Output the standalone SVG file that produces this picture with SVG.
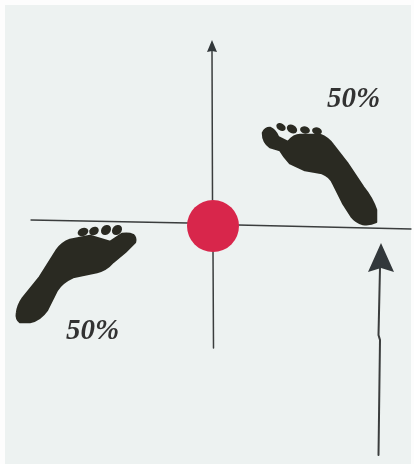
<svg xmlns="http://www.w3.org/2000/svg" width="414" height="464" viewBox="0 0 414 464">
<style>
.foot{fill:#2a2a22;stroke:#2a2a22;stroke-width:2.500;stroke-linejoin:round}
.toe{fill:#2a2a22}
.line{fill:none;stroke:#3a3d3d;stroke-linecap:round}
.head{fill:#33383a}
.pct{font-family:"Liberation Serif",serif;font-style:italic;font-weight:bold;font-size:29px;fill:#333333}
</style>
<defs><filter id="soft" x="-5%" y="-5%" width="110%" height="110%"><feGaussianBlur stdDeviation="0.7"/></filter></defs>
<rect width="414" height="464" fill="#fdfdfd"/>
<rect x="5" y="5" width="406" height="459" fill="#edf2f1"/>
<g id="connectors" filter="url(#soft)">
<path class="line" stroke-width="1.300" d="M31 220L188 223M238 225L411 229"/>
<path class="line" stroke-width="1.500" d="M212 50L212.500 200M213 250L213.500 348"/>
<path class="head" d="M212 40L217 52L212 51L207 52Z"/>
<path class="line" stroke-width="2" d="M380 268L378.500 335L380 340L378.500 455"/>
<path class="head" d="M381 243L394 272L381 268L368 272Z"/>
</g>
<g id="center" filter="url(#soft)"><circle cx="213" cy="226" r="26" fill="#d8274b"/></g>
<g id="foot-right" filter="url(#soft)">
<path class="foot" d="M263 133Q265 128 270 128Q275 130 278 137L288 142Q294 135 300 135L320 135Q328 138 333 145L347 163L363 187Q372 198 376 210L376 222Q370 225 363 224Q356 222 352 217L343 203L333 183Q330 176 322 173L305 170L290 163Q284 157 280 150L270 147Q263 142 263 133Z"/>
<ellipse class="toe" cx="281" cy="127" rx="5" ry="3.500" transform="rotate(30 281 127)"/>
<ellipse class="toe" cx="292" cy="129" rx="5.500" ry="4" transform="rotate(30 292 129)"/>
<ellipse class="toe" cx="305" cy="130" rx="5" ry="3.500" transform="rotate(15 305 130)"/>
<ellipse class="toe" cx="317" cy="131" rx="5" ry="3.500" transform="rotate(15 317 131)"/>
<text class="pct" x="327" y="107">50%</text>
</g>
<g id="foot-left" filter="url(#soft)">
<path class="foot" d="M133 235Q136 238 135 242L125 252L113 262Q106 270 97 272L73 277Q62 282 57 290L47 310Q40 320 30 322L20 322Q16 319 17 313Q18 305 23 298L40 277L57 250Q62 243 70 240L90 236L110 242L122 234Q129 233 133 235Z"/>
<ellipse class="toe" cx="83" cy="232" rx="5.500" ry="4" transform="rotate(-20 83 232)"/>
<ellipse class="toe" cx="94" cy="231" rx="5" ry="4" transform="rotate(-30 94 231)"/>
<ellipse class="toe" cx="106" cy="230" rx="5.500" ry="4.500" transform="rotate(-45 106 230)"/>
<ellipse class="toe" cx="117" cy="230" rx="5.500" ry="4.500" transform="rotate(-45 117 230)"/>
<text class="pct" x="66" y="339">50%</text>
</g>
</svg>
